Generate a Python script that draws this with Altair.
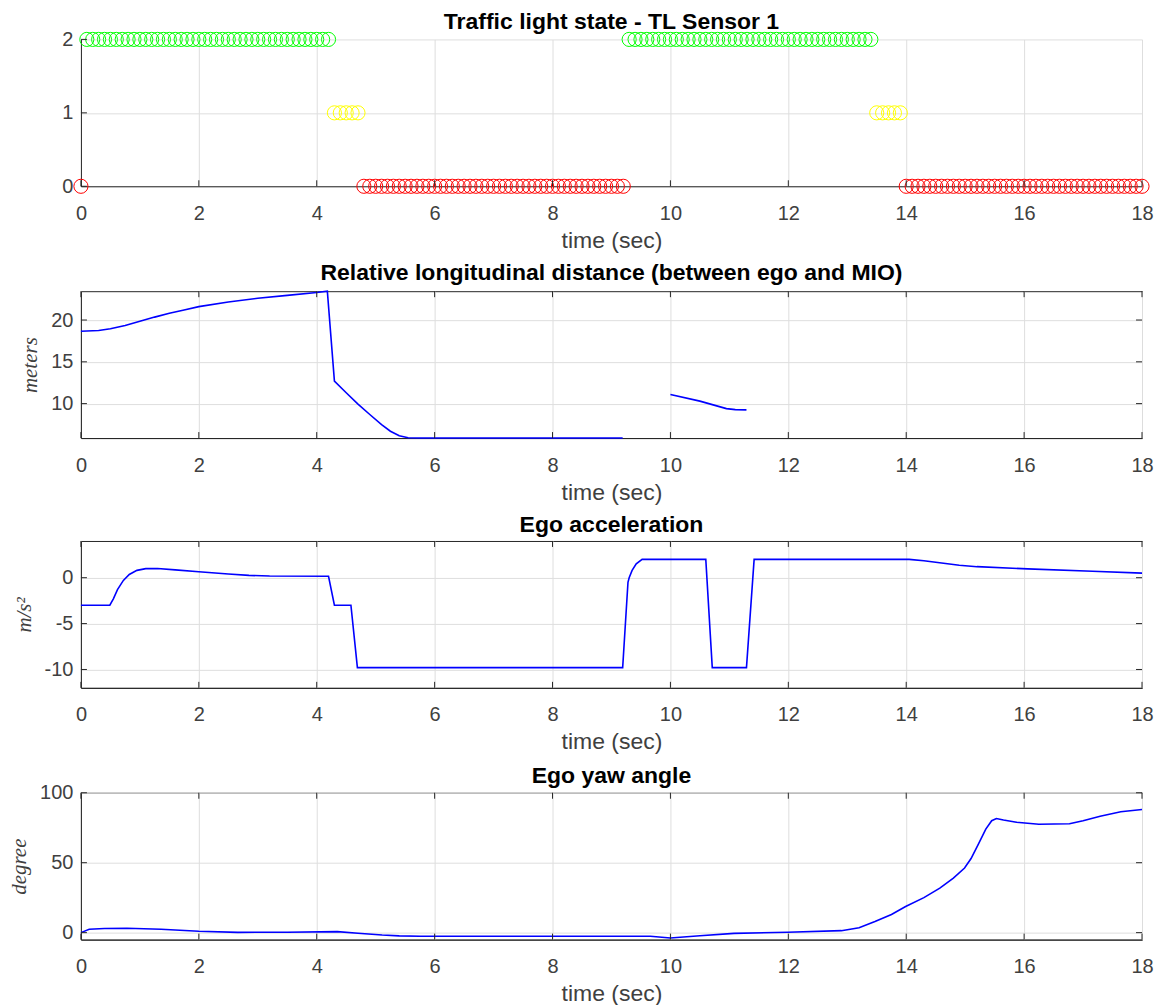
import altair as alt
import pandas as pd

# ---------------- data ----------------
time_ticks = [0, 2, 4, 6, 8, 10, 12, 14, 16, 18]

# Panel 1: traffic light state (segments sampled every 0.1 s)
tl_seg_start = [0.0, 0.1, 4.3, 4.8, 9.3, 13.5, 14.0]
tl_seg_end = [0.0, 4.2, 4.7, 9.2, 13.4, 13.9, 18.0]
tl_seg_state = [0, 2, 1, 0, 2, 1, 0]
tl_step = 0.1
tl_state_ticks = [0, 1, 2]
tl_colors = ["#FF0000", "#FFFF00", "#00FF00"]

# Panel 2: relative longitudinal distance (two segments)
dist1_t = [0.0, 0.3, 0.5, 0.75, 1.0, 1.25, 1.5, 1.75, 2.0, 2.5, 3.0, 3.5, 4.0, 4.18,
           4.3, 4.5, 4.7, 4.9, 5.1, 5.25, 5.4, 5.55, 5.75, 9.19]
dist1_v = [18.65, 18.75, 18.95, 19.35, 19.85, 20.35, 20.8, 21.2, 21.6, 22.15, 22.6, 22.95, 23.3, 23.45,
           12.7, 11.3, 9.95, 8.7, 7.5, 6.7, 6.15, 5.92, 5.88, 5.88]
dist2_t = [10.0, 10.5, 10.95, 11.1, 11.29]
dist2_v = [11.1, 10.3, 9.4, 9.28, 9.25]
dist_ticks = [10, 15, 20]

# Panel 3: ego acceleration
acc_t = [0.0, 0.49, 0.55, 0.62, 0.72, 0.82, 0.95, 1.1, 1.3, 1.6, 2.0, 2.5, 2.85, 3.2, 4.2,
         4.3, 4.58, 4.69, 9.19, 9.28, 9.3, 9.35, 9.42, 9.52, 10.6, 10.71, 11.29, 11.42,
         14.05, 14.3, 14.6, 14.9, 15.2, 16.06, 17.16, 18.0]
acc_v = [-3.0, -3.0, -2.3, -1.3, -0.3, 0.35, 0.8, 0.99, 1.0, 0.85, 0.64, 0.4, 0.25, 0.18, 0.15,
         -3.0, -3.0, -9.8, -9.8, -0.5, 0.0, 0.8, 1.5, 2.0, 2.0, -9.8, -9.8, 2.0,
         2.0, 1.85, 1.6, 1.35, 1.2, 0.96, 0.7, 0.5]
acc_ticks = [-10, -5, 0]

# Panel 4: ego yaw angle
yaw_t = [0.0, 0.14, 0.4, 0.78, 1.36, 2.0, 2.66, 3.5, 4.35, 4.7, 5.11, 5.4, 5.76, 9.66, 10.0,
         10.5, 11.08, 11.99, 12.9, 13.2, 13.47, 13.75, 13.99, 14.3, 14.57, 14.8, 14.99, 15.1,
         15.22, 15.35, 15.45, 15.53, 15.65, 15.87, 16.25, 16.77, 17.0, 17.29, 17.64, 18.0]
yaw_v = [0.0, 2.4, 2.9, 3.1, 2.4, 1.0, 0.2, 0.3, 0.7, -0.4, -1.7, -2.3, -2.6, -2.6, -3.8,
         -2.2, -0.5, 0.3, 1.4, 3.5, 7.9, 13.0, 18.7, 25.0, 31.8, 39.0, 46.2, 53.0,
         62.9, 74.0, 80.0, 81.6, 80.5, 78.9, 77.5, 77.8, 80.0, 83.2, 86.4, 88.0]
yaw_ticks = [0, 50, 100]

# ---------------- styling ----------------
W = 1062
H = 147
FONT = "Liberation Sans"
SERIF = "Liberation Serif"
DARK = "#262626"
LABEL_GRAY = "#404040"
TICK_LEN = 6
LINE_BLUE = "#0000FF"
PLAIN_NUM = "'' + datum.value"

# build tables
tl_rows = []
for s, e, st in zip(tl_seg_start, tl_seg_end, tl_seg_state):
    n = int(round((e - s) / tl_step))
    for k in range(n + 1):
        tl_rows.append({"t": round(s + k * tl_step, 2), "v": st})
tl_df = pd.DataFrame(tl_rows)

dist_df = pd.DataFrame(
    [{"t": t, "v": v, "seg": 1} for t, v in zip(dist1_t, dist1_v)]
    + [{"t": t, "v": v, "seg": 2} for t, v in zip(dist2_t, dist2_v)]
)
acc_df = pd.DataFrame({"t": acc_t, "v": acc_v})
yaw_df = pd.DataFrame({"t": yaw_t, "v": yaw_v})


def x_enc():
    return alt.X(
        "t:Q",
        scale=alt.Scale(domain=[0, 18], nice=False, zero=False),
        axis=alt.Axis(values=time_ticks, title="time (sec)", labelFlush=False,
                      labelExpr=PLAIN_NUM),
    )


def y_enc(domain, ticks, title):
    if title:
        ax = alt.Axis(values=ticks, title=title, labelFlush=False, labelExpr=PLAIN_NUM,
                      titleFont=SERIF, titleFontStyle="italic", titleFontWeight="normal",
                      titleFontSize=21, titleColor="#404040")
    else:
        ax = alt.Axis(values=ticks, title="", labelFlush=False, labelExpr=PLAIN_NUM)
    return alt.Y("v:Q", scale=alt.Scale(domain=domain, nice=False, zero=False), axis=ax)


def tick_layers(ticks, box):
    xt = pd.DataFrame({"t": time_ticks})
    yt = pd.DataFrame({"v": ticks})
    layers = [
        alt.Chart(xt).mark_rule(color=DARK, strokeWidth=1).encode(
            x=alt.X("t:Q"), y=alt.value(H), y2=alt.value(H - TICK_LEN)),
        alt.Chart(yt).mark_rule(color=DARK, strokeWidth=1).encode(
            y=alt.Y("v:Q"), x=alt.value(0), x2=alt.value(TICK_LEN)),
    ]
    if box:
        layers += [
            alt.Chart(xt).mark_rule(color=DARK, strokeWidth=1).encode(
                x=alt.X("t:Q"), y=alt.value(0), y2=alt.value(TICK_LEN)),
            alt.Chart(yt).mark_rule(color=DARK, strokeWidth=1).encode(
                y=alt.Y("v:Q"), x=alt.value(W), x2=alt.value(W - TICK_LEN)),
        ]
    return layers


def title(text, offset):
    return alt.TitleParams(text=text, font=FONT, fontSize=23, fontWeight="bold",
                           color="#000000", anchor="middle", frame="group",
                           baseline="alphabetic", offset=offset)


# Panel 1
p1_main = alt.Chart(tl_df).mark_point(shape="circle", filled=False, size=200, strokeWidth=1, opacity=1).encode(
    x=x_enc(),
    y=y_enc([0, 2], tl_state_ticks, ""),
    color=alt.Color("v:N", scale=alt.Scale(domain=[0, 1, 2], range=tl_colors), legend=None),
)
p1 = alt.layer(p1_main, *tick_layers(tl_state_ticks, False)).properties(
    width=W, height=H, title=title("Traffic light state - TL Sensor 1", -23),
    view=alt.ViewBackground(strokeOpacity=0),
)

# Panel 2
p2_main = alt.Chart(dist_df).mark_line(color=LINE_BLUE, strokeWidth=1.6).encode(
    x=x_enc(),
    y=y_enc([5.88, 23.45], dist_ticks, "meters"),
    detail="seg:N",
)
p2 = alt.layer(p2_main, *tick_layers(dist_ticks, True)).properties(
    width=W, height=H, title=title("Relative longitudinal distance (between ego and MIO)", -15),
)

# Panel 3
p3_main = alt.Chart(acc_df).mark_line(color=LINE_BLUE, strokeWidth=1.6).encode(
    x=x_enc(),
    y=y_enc([-12, 4], acc_ticks, "m/s²"),
)
p3 = alt.layer(p3_main, *tick_layers(acc_ticks, True)).properties(
    width=W, height=H, title=title("Ego acceleration", -15),
)

# Panel 4
p4_main = alt.Chart(yaw_df).mark_line(color=LINE_BLUE, strokeWidth=1.6).encode(
    x=x_enc(),
    y=y_enc([-5, 100], yaw_ticks, "degree"),
)
p4 = alt.layer(p4_main, *tick_layers(yaw_ticks, True)).properties(
    width=W, height=H, title=title("Ego yaw angle", -23),
)

chart = alt.vconcat(p1, p2, p3, p4, spacing=9).properties(
    padding={"left": 0, "top": 3, "right": 0, "bottom": 0},
    background="white",
).configure_axis(
    grid=True, gridColor="#dedede", gridWidth=1,
    domainColor=DARK, domainWidth=1, ticks=False,
    labelFont=FONT, labelFontSize=20, labelColor=LABEL_GRAY,
    titleFont=FONT, titleFontSize=23, titleFontWeight="normal", titleColor=LABEL_GRAY,
).configure_axisX(
    labelPadding=17, titlePadding=6,
).configure_axisY(
    labelPadding=8, titlePadding=10,
).configure_view(
    stroke=DARK, strokeWidth=1,
)

chart.save("out.html", embed_options={"renderer": "svg", "actions": False})
